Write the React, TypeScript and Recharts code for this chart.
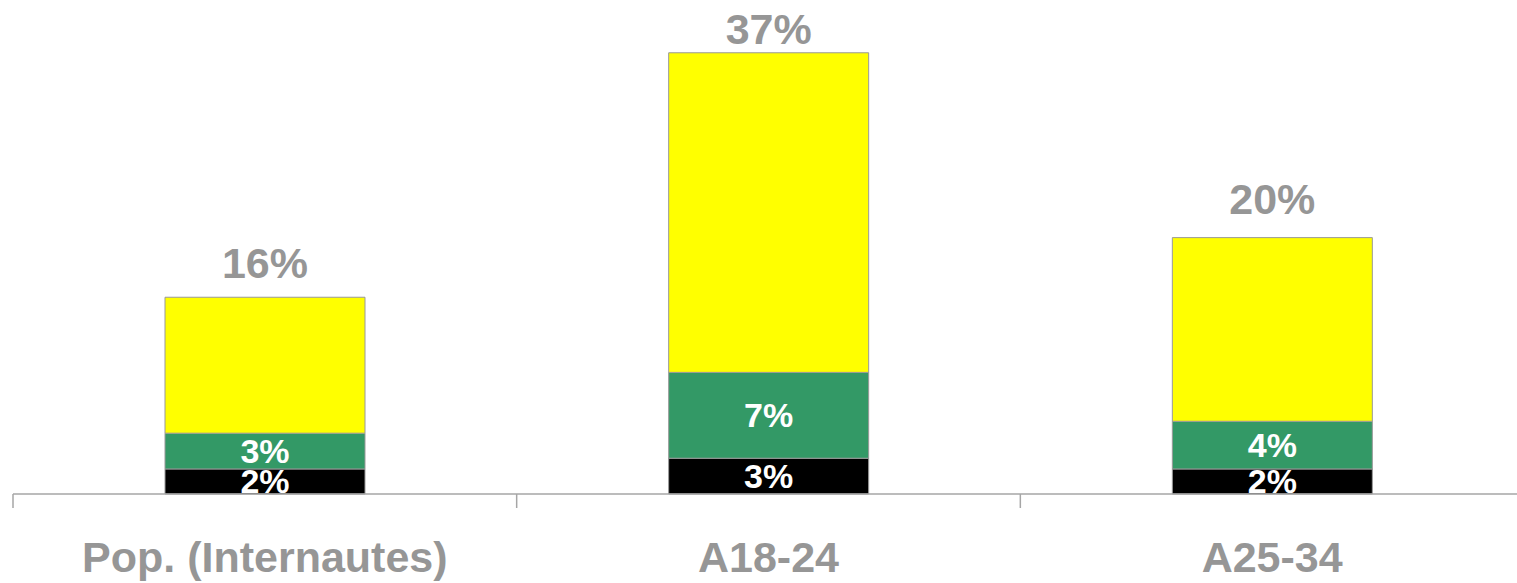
import React from 'react';
import { BarChart, Bar, XAxis, YAxis, LabelList } from 'recharts';

const categories = ['Pop. (Internautes)', 'A18-24', 'A25-34'];
const blackValues = [2.1, 3.0, 2.1];
const greenValues = [3.0, 7.2, 4.0];
const yellowValues = [11.4, 26.8, 15.4];
const totalLabels = ['16%', '37%', '20%'];
const blackLabels = ['2%', '3%', '2%'];
const greenLabels = ['3%', '7%', '4%'];

const data = categories.map((name, i) => ({
  name,
  black: blackValues[i],
  green: greenValues[i],
  yellow: yellowValues[i],
}));

const CHART_W = 1530;
const CHART_H = 583;
const MARGIN = { top: 17, right: 6, bottom: 0, left: 13 };
const BAND = (CHART_W - MARGIN.left - MARGIN.right) / categories.length;
const GRAY = '#969696';
const LINE = '#A6A6A6';
const FONT = '"Liberation Sans", Arial, sans-serif';
// gap between bar top and the total label, per bar (as placed in the original)
const TOTAL_GAPS = [19, 9, 24];

const CategoryTick = (props: any) => {
  const { x, y, payload, index } = props;
  const half = BAND / 2;
  return (
    <g>
      <line x1={x - half} x2={x - half} y1={y} y2={y + 14} stroke={LINE} strokeWidth={1.5} />
      {index === categories.length - 1 && (
        <line x1={x + half} x2={x + half} y1={y} y2={y + 14} stroke={LINE} strokeWidth={1.5} />
      )}
      <text x={x} y={y + 78} textAnchor="middle" fill={GRAY} fontSize={43} fontWeight="bold" fontFamily={FONT}>
        {payload.value}
      </text>
    </g>
  );
};

const segmentLabel = (labels: string[], key: string) => (props: any) => {
  const { x, y, width, height, index } = props;
  const id = `clip-${key}-${index}`;
  return (
    <g>
      <defs>
        <clipPath id={id}>
          <rect x={x} y={y - 2} width={width} height={height + 2} />
        </clipPath>
      </defs>
      <text
        x={x + width / 2}
        y={y + height / 2 + 12}
        textAnchor="middle"
        fill="#FFFFFF"
        fontSize={34}
        fontWeight="bold"
        fontFamily={FONT}
        clipPath={`url(#${id})`}
      >
        {labels[index]}
      </text>
    </g>
  );
};

const TotalLabel = (props: any) => {
  const { x, y, width, index } = props;
  return (
    <text
      x={x + width / 2}
      y={y - TOTAL_GAPS[index]}
      textAnchor="middle"
      fill={GRAY}
      fontSize={43}
      fontWeight="bold"
      fontFamily={FONT}
    >
      {totalLabels[index]}
    </text>
  );
};

export default function App() {
  return (
    <div style={{ position: 'absolute', left: 0, top: 0, width: 1517, height: CHART_H, overflow: 'hidden', background: '#fff' }}>
      <BarChart width={CHART_W} height={CHART_H} data={data} margin={MARGIN} barSize={200}>
        <XAxis
          dataKey="name"
          height={89}
          axisLine={{ stroke: LINE, strokeWidth: 1.5 }}
          tickLine={false}
          tickSize={0}
          tickMargin={0}
          interval={0}
          tick={<CategoryTick />}
        />
        <YAxis hide domain={[0, 40]} />
        <Bar dataKey="black" stackId="a" fill="#000000" stroke="#999999" strokeWidth={1} isAnimationActive={false}>
          <LabelList dataKey="black" content={segmentLabel(blackLabels, 'black')} />
        </Bar>
        <Bar dataKey="green" stackId="a" fill="#339966" stroke="#999999" strokeWidth={1} isAnimationActive={false}>
          <LabelList dataKey="green" content={segmentLabel(greenLabels, 'green')} />
        </Bar>
        <Bar dataKey="yellow" stackId="a" fill="#FFFF00" stroke="#999999" strokeWidth={1} isAnimationActive={false}>
          <LabelList dataKey="yellow" content={TotalLabel} />
        </Bar>
      </BarChart>
    </div>
  );
}
